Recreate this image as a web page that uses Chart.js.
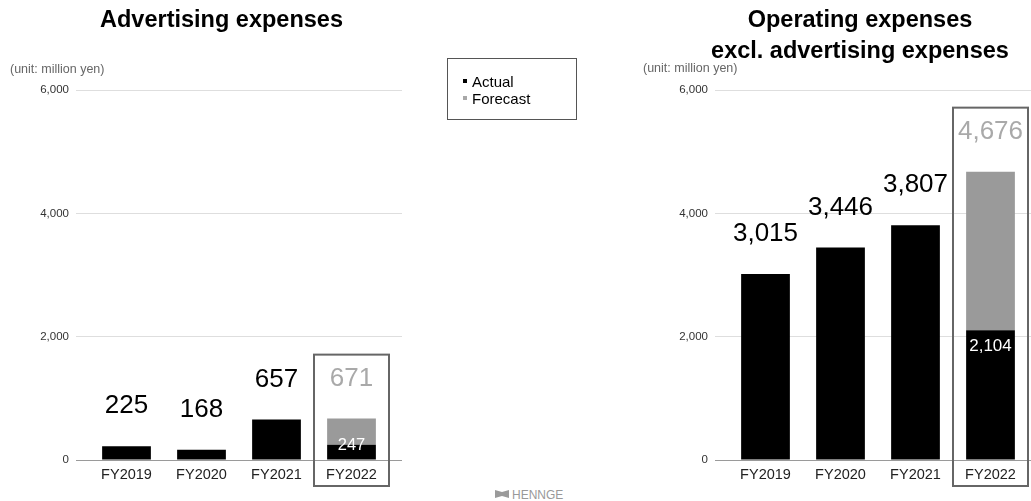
<!DOCTYPE html>
<html>
<head>
<meta charset="utf-8">
<script src="https://cdn.jsdelivr.net/npm/chart.js@4.4.1/dist/chart.umd.min.js"></script>
<style>
  html, body { margin: 0; padding: 0; background: #fff; overflow: hidden; }
  body { width: 1031px; height: 501px; position: relative; font-family: "Liberation Sans", Arial, Helvetica, sans-serif; }
  .abs { position: absolute; line-height: 1; white-space: nowrap; }
  .title { font-weight: bold; font-size: 23.5px; color: #000; text-align: center; width: 400px; }
  .unit { font-size: 12.5px; color: #666; }
  canvas { position: absolute; top: 0; }
  #legend { position: absolute; left: 447px; top: 58px; width: 128px; height: 60px; border: 1.5px solid #555; }
  .lg { position: absolute; font-size: 15px; color: #000; line-height: 1; }
  .sw { position: absolute; width: 4px; height: 4px; }
</style>
</head>
<body>
<canvas id="c1" width="430" height="501" style="left:0px"></canvas>
<canvas id="c2" width="411" height="501" style="left:620px"></canvas>

<div class="abs title" style="left:21.5px; top:8px;">Advertising expenses</div>
<div class="abs title" style="left:660px; top:8px;">Operating expenses</div>
<div class="abs title" style="left:660px; top:39px;">excl. advertising expenses</div>
<div class="abs unit" style="left:10px; top:62.6px;">(unit: million yen)</div>
<div class="abs unit" style="left:643px; top:62px;">(unit: million yen)</div>

<div id="legend">
  <div class="sw" id="swA" style="left:15px; top:20px;"></div>
  <div class="lg" style="left:24px; top:14.8px;">Actual</div>
  <div class="sw" id="swF" style="left:15px; top:37px;"></div>
  <div class="lg" style="left:24px; top:31.5px;">Forecast</div>
</div>

<svg class="abs" style="left:495px; top:490px;" width="14" height="8" viewBox="0 0 14 8">
  <polygon points="0,0 7,2 14,0 14,8 7,6 0,8" fill="#9a9a9a"/>
</svg>
<div class="abs" style="left:512px; top:488.6px; font-size:12px; color:#999;">HENNGE</div>

<script>
// ---- data ----
const categories = ['FY2019', 'FY2020', 'FY2021', 'FY2022'];
const adActual = [225, 168, 657, 247];
const adForecastTotal = [null, null, null, 671];
const opActual = [3015, 3446, 3807, 2104];
const opForecastTotal = [null, null, null, 4676];
const yTicks = [0, 2000, 4000, 6000];
const seriesNames = ['Actual', 'Forecast'];

const ACTUAL_COLOR = '#000000';
const FORECAST_COLOR = '#9a9a9a';
const FONT = '"Liberation Sans", Arial, Helvetica, sans-serif';

document.getElementById('swA').style.background = ACTUAL_COLOR;
document.getElementById('swF').style.background = '#a8a8a8';

const fmt = v => Number(v).toLocaleString('en-US');

function gridColor(ctx) {
  return (ctx.tick && ctx.tick.value === 0) ? '#9a9a9a' : '#dedede';
}

const labelPlugin = {
  id: 'valueLabels',
  afterDatasetsDraw(chart, args, opts) {
    const { ctx } = chart;
    const xs = chart.scales.x, ys = chart.scales.y;
    const actual = opts.actual, ftotal = opts.forecastTotal;
    ctx.save();
    ctx.textAlign = 'center';
    ctx.textBaseline = 'middle';
    for (let i = 0; i < actual.length; i++) {
      const x = xs.getPixelForValue(i);
      const hasF = ftotal[i] != null;
      const total = hasF ? ftotal[i] : actual[i];
      const yTop = ys.getPixelForValue(total);
      ctx.font = '26px ' + FONT;
      ctx.fillStyle = hasF ? '#a9a9a9' : '#000';
      ctx.fillText(fmt(total), x, yTop - 40);
      if (hasF) {
        const yA = ys.getPixelForValue(actual[i]);
        const yBase = ys.getPixelForValue(0);
        const y = Math.min(yA + 16, yBase - 15);
        ctx.font = opts.innerSize + 'px ' + FONT;
        ctx.fillStyle = '#fff';
        ctx.fillText(fmt(actual[i]), x, y);
        // highlight frame around forecast category
        const half = (xs.width / actual.length) / 2;
        ctx.strokeStyle = '#666';
        ctx.lineWidth = 2;
        const top = yTop - 40 - 24;
        ctx.strokeRect(x - half, top, half * 2, 486 - top);
      }
    }
    ctx.restore();
  }
};

function makeChart(id, actual, forecastTotal, yWidth, rightPad, rightTick, innerSize) {
  const forecastPart = forecastTotal.map((t, i) => t == null ? null : t - actual[i]);
  return new Chart(document.getElementById(id), {
    type: 'bar',
    data: {
      labels: categories,
      datasets: [
        { label: seriesNames[0], data: actual, backgroundColor: ACTUAL_COLOR, stack: 's', yAxisID: 'y' },
        { label: seriesNames[1], data: forecastPart, backgroundColor: FORECAST_COLOR, stack: 's', yAxisID: 'y' }
      ]
    },
    options: {
      responsive: false,
      animation: false,
      devicePixelRatio: 1,
      layout: { padding: { left: 0, right: rightPad, top: 90, bottom: 0 } },
      plugins: {
        legend: { display: false },
        tooltip: { enabled: false },
        title: { display: false },
        valueLabels: { actual: actual, forecastTotal: forecastTotal, innerSize: innerSize }
      },
      datasets: { bar: { barPercentage: 0.65, categoryPercentage: 1.0 } },
      scales: {
        x: {
          stacked: true,
          grid: { display: false, drawTicks: false },
          border: { display: false },
          ticks: { color: '#222', font: { family: FONT, size: 14.5 }, padding: 6.5, maxRotation: 0 },
          afterFit(s) { s.height = 41; }
        },
        y: {
          stacked: true,
          position: 'left',
          min: 0, max: 6000,
          afterBuildTicks(s) { s.ticks = yTicks.map(v => ({ value: v })); },
          grid: { color: gridColor, tickColor: gridColor, tickLength: 13, lineWidth: 1 },
          border: { display: false },
          ticks: { color: '#333', font: { family: FONT, size: 11.5 }, padding: 7, callback: v => fmt(v) },
          afterFit(s) { s.width = yWidth; }
        },
        y2: {
          position: 'right',
          min: 0, max: 6000,
          afterBuildTicks(s) { s.ticks = yTicks.map(v => ({ value: v })); },
          grid: { color: gridColor, tickColor: gridColor, tickLength: rightTick, drawOnChartArea: false, lineWidth: 1 },
          border: { display: false },
          ticks: { display: false },
          afterFit(s) { s.width = rightTick; }
        }
      }
    },
    plugins: [labelPlugin]
  });
}

makeChart('c1', adActual, adForecastTotal, 89, 28, 13, 16.5);
makeChart('c2', opActual, opForecastTotal, 108, 0, 3, 17);
</script>
</body>
</html>
